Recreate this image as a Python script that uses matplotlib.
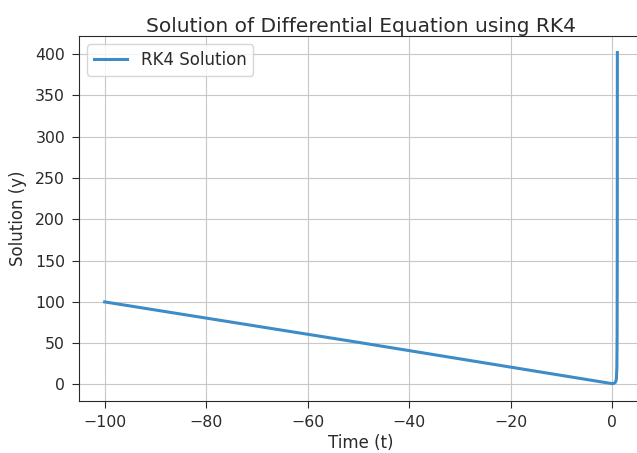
import matplotlib
matplotlib.use("Agg")
import matplotlib.pyplot as plt

# values
t_vals = [-100, -75, -50, -25, -10, -2, -0.5, 0, 0.3, 0.6, 0.8, 0.9, 0.95, 0.98, 1.0]
y_vals = [100, 75.5, 51, 26, 11, 3, 1.5, 1.0, 1.3, 2.5, 6, 20, 60, 160, 402]

plt.rcParams["font.size"] = 12
plt.rcParams["text.color"] = "#2a2a2a"
plt.rcParams["axes.labelcolor"] = "#2a2a2a"
plt.rcParams["xtick.color"] = "#2a2a2a"
plt.rcParams["ytick.color"] = "#2a2a2a"
plt.rcParams["axes.edgecolor"] = "#2a2a2a"

fig = plt.figure(figsize=(6.37, 4.53), dpi=100)
ax = fig.add_axes([79 / 637, 52 / 453, 564 / 637, 365 / 453])

ax.plot(t_vals, y_vals, label="RK4 Solution", color="#3d8cc8", lw=2.2)
ax.set_xlabel("Time (t)", fontsize=12, labelpad=3)
ax.set_ylabel("Solution (y)", fontsize=12, labelpad=6)
ax.set_title("Solution of Differential Equation using RK4", fontsize=14.5, pad=2)
ax.set_xlim(-105.05, 6.05)
ax.set_ylim(-20, 422)
ax.tick_params(labelsize=11.3, length=5, pad=5)
ax.spines["right"].set_visible(False)
ax.grid(True, color="#c8c8c8")
ax.legend(loc="upper left", fontsize=12)

fig.savefig("out.png", dpi=100)
